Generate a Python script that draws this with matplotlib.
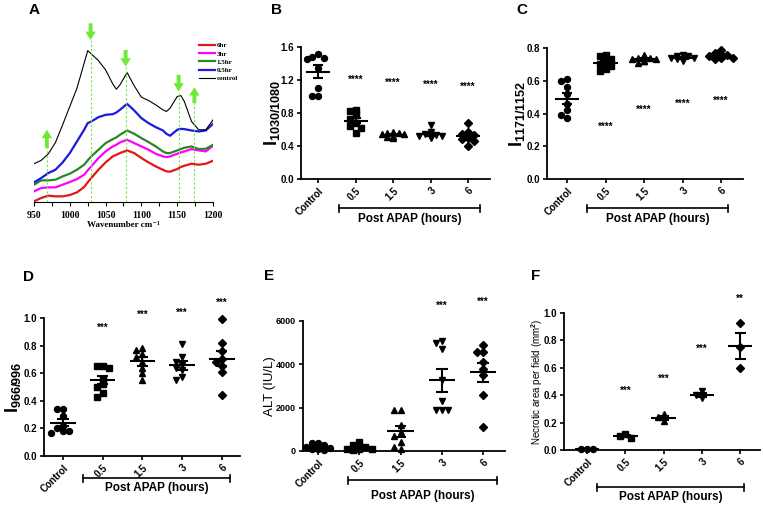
import matplotlib
matplotlib.use('Agg')
import matplotlib.pyplot as plt
import matplotlib.transforms as mtransforms
import numpy as np

plt.rcParams['font.family'] = ['Liberation Sans Narrow', 'Liberation Sans', 'DejaVu Sans']
plt.rcParams['font.weight'] = 'bold'
plt.rcParams['mathtext.fontset'] = 'custom'
plt.rcParams['mathtext.rm'] = 'Liberation Sans:bold'
plt.rcParams['mathtext.bf'] = 'Liberation Sans:bold'
plt.rcParams['mathtext.it'] = 'Liberation Sans:bold'

W, H = 763, 507

# ---- panel A: spectra (arbitrary intensity units)
wavenumber = [950, 960, 970, 980, 990, 1000, 1010, 1020, 1025, 1030, 1040, 1050, 1060, 1065, 1070,
              1080, 1090, 1100, 1110, 1120, 1130, 1135, 1140, 1150, 1155, 1160, 1170, 1180, 1190, 1200]
spec_control = [1.15, 1.25, 1.45, 1.79, 2.32, 2.87, 3.42, 4.17, 4.55, 4.45, 4.25, 3.97, 3.55, 3.39, 3.52,
                3.89, 3.49, 3.15, 3.05, 2.92, 2.77, 2.72, 2.82, 3.17, 3.20, 3.02, 2.42, 2.17, 2.17, 2.47]
spec_05 = [0.59, 0.72, 0.87, 0.97, 1.19, 1.47, 1.82, 2.17, 2.37, 2.42, 2.55, 2.62, 2.64, 2.69, 2.77,
           2.95, 2.75, 2.52, 2.37, 2.25, 2.15, 2.05, 1.99, 2.17, 2.20, 2.19, 2.15, 2.12, 2.15, 2.35]
spec_15 = [0.52, 0.65, 0.65, 0.67, 0.77, 0.85, 0.97, 1.12, 1.25, 1.37, 1.57, 1.77, 1.89, 1.94, 2.02,
           2.15, 2.05, 1.92, 1.80, 1.67, 1.52, 1.47, 1.47, 1.55, 1.59, 1.63, 1.67, 1.59, 1.60, 1.72]
spec_3 = [0.32, 0.42, 0.44, 0.44, 0.52, 0.60, 0.69, 0.82, 0.95, 1.07, 1.32, 1.52, 1.67, 1.72, 1.79,
          1.87, 1.77, 1.67, 1.57, 1.45, 1.37, 1.35, 1.37, 1.45, 1.49, 1.52, 1.59, 1.55, 1.52, 1.69]
spec_6 = [0.02, 0.12, 0.19, 0.17, 0.17, 0.21, 0.29, 0.45, 0.59, 0.72, 0.97, 1.19, 1.37, 1.42, 1.47,
          1.55, 1.47, 1.32, 1.19, 1.07, 0.97, 0.92, 0.91, 0.99, 1.05, 1.09, 1.15, 1.12, 1.15, 1.24]
spec_labels = ['6hr', '3hr', '1.5hr', '0.5hr', 'control']
# marked bands: wavenumber, arrow tail, arrow tip
band_pos = [968, 1029, 1078, 1152, 1174]
band_tail = [1.62, 5.37, 4.57, 3.82, 2.97]
band_tip = [2.17, 4.87, 4.07, 3.32, 3.45]

# ---- panels B-F: scatter groups
groups = ['Control', '0.5', '1.5', '3', '6']

b_values = [[1.48, 1.52, 1.46, 1.47, 1.34, 1.10, 1.01, 1.01],
            [0.84, 0.83, 0.77, 0.73, 0.68, 0.64, 0.62, 0.56],
            [0.57, 0.56, 0.55, 0.54, 0.52, 0.51, 0.50, 0.56],
            [0.66, 0.57, 0.55, 0.53, 0.52, 0.51, 0.50, 0.52],
            [0.68, 0.57, 0.55, 0.53, 0.50, 0.48, 0.46, 0.40]]
b_stars = ['', '****', '****', '****', '****']
b_star_y = [0, 1.20, 1.17, 1.14, 1.12]

c_values = [[0.61, 0.60, 0.56, 0.52, 0.46, 0.42, 0.39, 0.37],
            [0.76, 0.75, 0.73, 0.72, 0.70, 0.69, 0.67, 0.66],
            [0.76, 0.74, 0.74, 0.73, 0.73, 0.72, 0.71, 0.72],
            [0.76, 0.75, 0.74, 0.74, 0.73, 0.73, 0.72, 0.75],
            [0.79, 0.77, 0.76, 0.75, 0.75, 0.74, 0.73, 0.74]]
c_stars = ['', '****', '****', '****', '****']
c_star_y = [0, 0.32, 0.42, 0.457, 0.48]

d_values = [[0.34, 0.34, 0.29, 0.22, 0.20, 0.18, 0.18, 0.17],
            [0.65, 0.64, 0.65, 0.56, 0.52, 0.50, 0.46, 0.43],
            [0.78, 0.77, 0.74, 0.72, 0.68, 0.64, 0.60, 0.55],
            [0.81, 0.72, 0.68, 0.66, 0.64, 0.62, 0.57, 0.55],
            [0.99, 0.82, 0.76, 0.70, 0.68, 0.65, 0.61, 0.44]]
d_stars = ['', '***', '***', '***', '***']
d_star_y = [0, 0.93, 1.02, 1.04, 1.11]

e_values = [[380, 350, 300, 200, 150, 100, 80, 50],
            [400, 300, 200, 150, 100, 100, 80, 50],
            [1900, 1900, 1200, 900, 700, 400, 200, 100],
            [5100, 5000, 4700, 3300, 2300, 1900, 1900, 1900],
            [4900, 4550, 4550, 4100, 3800, 3500, 2600, 1100]]
e_stars = ['', '', '', '***', '***']
e_star_y = [0, 0, 0, 6720, 6870]

f_values = [[0.01, 0.01, 0.01],
            [0.12, 0.10, 0.09],
            [0.26, 0.24, 0.21],
            [0.43, 0.40, 0.38],
            [0.93, 0.75, 0.60]]
f_stars = ['', '***', '***', '***', '**']
f_star_y = [0, 0.43, 0.52, 0.74, 1.10]

markers = ['o', 's', '^', 'v', 'D']

fig = plt.figure(figsize=(W / 100, H / 100), dpi=100)


def px_axes(l, t, r, b):
    return fig.add_axes([l / W, 1 - b / H, (r - l) / W, (b - t) / H])


def swarm(vals, span, step=0.15, tol=0.04):
    # spread points of similar value sideways, at most two steps from the centre
    vals = np.asarray(vals, float)
    xs = np.zeros(len(vals))
    placed = []
    cands = [0, -1, 1, -2, 2]
    for i in np.argsort(-vals, kind='stable'):
        near = [xs[j] for j in placed if abs(vals[j] - vals[i]) < tol * span]
        best = min(cands, key=lambda c: (sum(abs(c * step - o) < step * 0.9 for o in near),
                                         cands.index(c)))
        xs[i] = best * step
        placed.append(i)
    return xs


# ---- panel A
axA = px_axes(34, 19, 213, 202)
for vals, col, lw, lab in zip([spec_6, spec_3, spec_15, spec_05, spec_control],
                              ['#e01818', '#ff00ff', '#2b852b', '#1a1ae0', 'black'],
                              [1.6, 1.6, 1.6, 1.6, 0.8], spec_labels):
    axA.plot(wavenumber, vals, color=col, lw=lw, label=lab)
for x, t0, t1 in zip(band_pos, band_tail, band_tip):
    axA.annotate('', xy=(x, t1), xytext=(x, t0),
                 arrowprops=dict(arrowstyle='simple,head_width=0.75,head_length=0.6,tail_width=0.28',
                                 color='#6fe83a', lw=0, shrinkA=0, shrinkB=0))
    axA.plot([x, x], [0, min(t0, t1)], color='#6fe83a', lw=0.8, ls=(0, (2, 2)))
axA.set_xlim(950, 1200)
axA.set_ylim(0, 5.5)
for s in ['top', 'right', 'left']:
    axA.spines[s].set_visible(False)
axA.set_yticks([])
axA.set_xticks(range(950, 1201, 50))
axA.set_xticks(range(975, 1200, 50), minor=True)
axA.tick_params(axis='x', which='both', length=3, width=0.8, direction='out')
serif = ['Liberation Serif', 'DejaVu Serif']
for t in axA.get_xticklabels():
    t.set_family(serif)
    t.set_fontsize(7)
    t.set_weight('bold')
axA.set_xlabel('Wavenumber cm⁻¹', family=serif, fontsize=6.5, weight='bold', labelpad=1)
axA.legend(loc='upper left', bbox_to_anchor=(196 / W, 1 - 39 / H), bbox_transform=fig.transFigure,
           frameon=False, borderpad=0, handlelength=2.2, handletextpad=0.3, labelspacing=0.35,
           prop={'family': serif, 'weight': 'bold', 'size': 5})


def scatter_panel(rect, data, ymax, yticks, ytick_fmt, ytick_size, ylabel, ylabel_x, ylabel_size,
                  stars, star_y, ctrl_px, step_px, bracket, bracket_y, text_y):
    l, t, r, b = rect
    ax = px_axes(l, t, r, b)
    for i, (vals, m) in enumerate(zip(data, markers)):
        vals = np.asarray(vals, float)
        ax.plot(i + swarm(vals, ymax), vals, m, color='black', ms=4.3 if m != 'D' else 3.8,
                ls='none', clip_on=False)
        mean = vals.mean()
        sem = vals.std(ddof=1) / np.sqrt(len(vals))
        ax.hlines(mean, i - 0.32, i + 0.32, color='black', lw=1.5)
        ax.hlines([mean - sem, mean + sem], i - 0.14, i + 0.14, color='black', lw=1.5)
        ax.vlines(i, mean - sem, mean + sem, color='black', lw=1.5)
        if stars[i]:
            ax.text(i, star_y[i], stars[i], ha='center', va='center', fontsize=7)
    ax.spines['top'].set_visible(False)
    ax.spines['right'].set_visible(False)
    ax.spines['left'].set_linewidth(1.3)
    ax.spines['bottom'].set_linewidth(1.3)
    ax.set_yticks(yticks)
    ax.set_yticklabels([ytick_fmt.format(v) for v in yticks], fontsize=ytick_size)
    ax.set_xticks(range(len(groups)))
    ax.set_xticklabels(groups, rotation=45, ha='right', rotation_mode='anchor', fontsize=7)
    ax.tick_params(length=3, width=1.2, pad=2)
    ax.set_ylabel(ylabel, fontsize=ylabel_size, va='center')
    ax.yaxis.set_label_coords((ylabel_x - l) / (r - l), 0.5)
    tr = mtransforms.blended_transform_factory(ax.transData, fig.transFigure)
    x0, x1 = [(p - ctrl_px) / step_px for p in bracket]
    yb = 1 - bracket_y / H
    ax.plot([x0, x1], [yb, yb], color='black', lw=1.2, transform=tr, clip_on=False)
    for xx in (x0, x1):
        ax.plot([xx, xx], [yb - 3.5 / H, yb + 3.5 / H], color='black', lw=1.2, transform=tr, clip_on=False)
    ax.text((x0 + x1) / 2, 1 - text_y / H, 'Post APAP (hours)', transform=tr,
            ha='center', va='center', fontsize=8.5)
    ax.set_xlim((l - ctrl_px) / step_px, (r - ctrl_px) / step_px)
    ax.set_ylim(0, ymax)
    return ax


scatter_panel((301, 47, 490, 179), b_values, 1.6, [0, 0.4, 0.8, 1.2, 1.6], '{:.1f}', 7,
              r'$\mathrm{I}_{1030/1080}$', 272, 13, b_stars, b_star_y, 318, 37.5,
              (339, 480), 208, 219)
scatter_panel((547, 48, 743, 179), c_values, 0.8, [0, 0.2, 0.4, 0.6, 0.8], '{:.1f}', 7,
              r'$\mathrm{I}_{1171/1152}$', 517, 13, c_stars, c_star_y, 567, 38.5,
              (587, 728), 208, 219)
scatter_panel((44, 318, 240, 456), d_values, 1.0, [0, 0.2, 0.4, 0.6, 0.8, 1.0], '{:.1f}', 7,
              r'$\mathrm{I}_{966/996}$', 13, 13, d_stars, d_star_y, 63, 39.7,
              (83, 230), 478, 488)
scatter_panel((303, 321, 505, 451), e_values, 6000, [0, 2000, 4000, 6000], '{:.0f}', 6.5,
              'ALT (IU/L)', 270, 9.5, e_stars, e_star_y, 318, 41.3,
              (348, 497), 480, 496)
scatter_panel((564, 313, 760, 450), f_values, 1.0, [0, 0.2, 0.4, 0.6, 0.8, 1.0], '{:.1f}', 7,
              r'Necrotic area per field (mm$^2$)', 537, 7, f_stars, f_star_y, 587, 38.3,
              (597, 744), 487, 497)

for lab, x, y in [('A', 34, 10), ('B', 277, 10), ('C', 522, 10),
                  ('D', 28, 277), ('E', 269, 276), ('F', 536, 276)]:
    fig.text(x / W, 1 - y / H, lab, fontsize=11, weight='bold', family='Liberation Sans',
             ha='center', va='center')

fig.savefig('out.png', dpi=100)
